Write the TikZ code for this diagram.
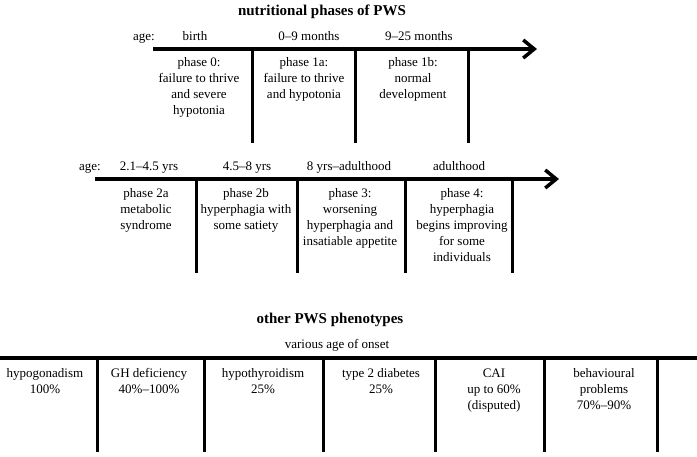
\documentclass[tikz,border=0pt]{standalone}
\usepackage{fontspec}
\setmainfont{Liberation Serif}
\usetikzlibrary{arrows.meta}
\begin{document}
\begin{tikzpicture}[x=1pt,y=-1pt,
  lbl/.style={font=\fontsize{13}{16}\selectfont, inner sep=0pt, anchor=base},
  txt/.style={font=\fontsize{13}{16}\selectfont, inner sep=0pt, anchor=north, align=center},
  ttl/.style={font=\fontsize{15}{18}\selectfont\bfseries, inner sep=0pt, anchor=base},
  axis/.style={line width=3.5pt, -{Straight Barb[length=11pt,width=18pt,line width=3.5pt]}},
  bar/.style={line width=3.5pt},
  tick/.style={line width=3pt}]
\useasboundingbox (0,0) rectangle (697,456);

% titles
\node[ttl] (t1) at (322,15) {nutritional phases of PWS};
\node[ttl] (t2) at (330,323) {other PWS phenotypes};

% timeline 1
\coordinate (a1s) at (153,49);
\coordinate (a1e) at (537,49);
\draw[axis] (a1s) -- (a1e);
\foreach \x/\n in {252/p1,355/p2,468/p3}{
  \coordinate (\n t) at (\x,49);
  \coordinate (\n b) at (\x,143);
  \draw[tick] (\n t) -- (\n b);
}
\node[lbl] (age1) at (144,40) {age:};
\node[lbl] (l10) at (195,40) {birth};
\node[lbl] (l11) at (309,40) {0--9 months};
\node[lbl] (l12) at (419,40) {9--25 months};
\node[txt] (ph0) at (199,57.5) {phase 0:\\failure to thrive\\and severe\\hypotonia};
\node[txt] (ph1a) at (304,57.5) {phase 1a:\\failure to thrive\\and hypotonia};
\node[txt] (ph1b) at (413,57.5) {phase 1b:\\normal\\development};

% timeline 2
\coordinate (a2s) at (95,179);
\coordinate (a2e) at (559,179);
\draw[axis] (a2s) -- (a2e);
\foreach \x/\n in {196/q1,297/q2,405/q3,512/q4}{
  \coordinate (\n t) at (\x,179);
  \coordinate (\n b) at (\x,273);
  \draw[tick] (\n t) -- (\n b);
}
\node[lbl] (age2) at (90,170) {age:};
\node[lbl] (l20) at (149,170) {2.1--4.5 yrs};
\node[lbl] (l21) at (247,170) {4.5--8 yrs};
\node[lbl] (l22) at (349,170) {8 yrs--adulthood};
\node[lbl] (l23) at (459,170) {adulthood};
\node[txt] (ph2a) at (146,188.5) {phase 2a\\metabolic\\syndrome};
\node[txt] (ph2b) at (246,188.5) {phase 2b\\hyperphagia with\\some satiety};
\node[txt] (ph3) at (350,188.5) {phase 3:\\worsening\\hyperphagia and\\insatiable appetite};
\node[txt] (ph4) at (462,188.5) {phase 4:\\hyperphagia\\begins improving\\for some\\individuals};

% bottom bar
\coordinate (bs) at (0,358);
\coordinate (be) at (697,358);
\draw[bar] (bs) -- (be);
\foreach \x/\n in {97/r1,204/r2,323/r3,435/r4,544/r5,657/r6}{
  \coordinate (\n t) at (\x,358);
  \coordinate (\n b) at (\x,452);
  \draw[tick] (\n t) -- (\n b);
}
\node[lbl] (onset) at (337,348) {various age of onset};
\node[txt] (o1) at (45,368.5) {hypogonadism\\100\%};
\node[txt] (o2) at (149,368.5) {GH deficiency\\40\%--100\%};
\node[txt] (o3) at (263,368.5) {hypothyroidism\\25\%};
\node[txt] (o4) at (381,368.5) {type 2 diabetes\\25\%};
\node[txt] (o5) at (494,368.5) {CAI\\up to 60\%\\(disputed)};
\node[txt] (o6) at (604,368.5) {behavioural\\problems\\70\%--90\%};
\end{tikzpicture}
\end{document}
